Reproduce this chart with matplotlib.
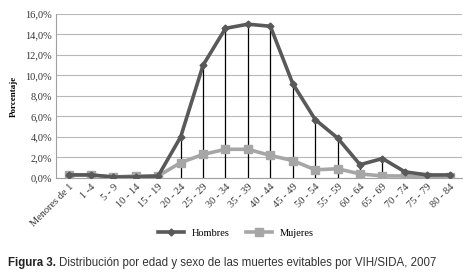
import matplotlib
matplotlib.use("Agg")
import matplotlib.pyplot as plt
from matplotlib.ticker import FuncFormatter

categories = ["Menores de 1", "1 -4", "5 - 9", "10 - 14", "15 - 19", "20 - 24", "25 - 29",
              "30 - 34", "35 - 39", "40 - 44", "45 - 49", "50 - 54", "55 - 59", "60 - 64",
              "65 - 69", "70 - 74", "75 - 79", "80 - 84"]
hombres = [0.3, 0.3, 0.1, 0.1, 0.2, 4.0, 11.0, 14.6, 15.0, 14.8, 9.2, 5.7, 3.9, 1.3, 1.9, 0.6, 0.3, 0.3]
mujeres = [0.3, 0.3, 0.1, 0.2, 0.2, 1.5, 2.3, 2.8, 2.8, 2.2, 1.7, 0.8, 0.9, 0.4, 0.2, 0.2, 0.1, 0.1]
yticks = [0, 2, 4, 6, 8, 10, 12, 14, 16]

serif = ["Liberation Serif", "DejaVu Serif"]
fig = plt.figure(figsize=(4.72, 2.79), dpi=100)
ax = fig.add_axes([0.119, 0.362, 0.86, 0.588])

x = list(range(len(categories)))
ax.vlines(x, 0, hombres, color="black", lw=0.9, zorder=2)
ax.plot(x, mujeres, color="#a6a6a6", lw=2.6, marker="s", ms=6, mec="#a6a6a6", zorder=3, label="Mujeres")
ax.plot(x, hombres, color="#595959", lw=2.6, marker="D", ms=3.5, zorder=4, label="Hombres")

ax.set_xlim(-0.55, len(categories) - 0.45)
ax.set_ylim(0, 16)
ax.set_yticks(yticks)
ax.yaxis.set_major_formatter(FuncFormatter(lambda v, p: f"{v:.1f}%".replace(".", ",")))
ax.grid(axis="y", color="#b8b8b8", lw=0.8)
ax.set_axisbelow(True)
for s in ["top", "right"]:
    ax.spines[s].set_visible(False)
for s in ["left", "bottom"]:
    ax.spines[s].set_color("#a0a0a0")
ax.tick_params(length=0, pad=3)
ax.set_xticks(x)
ax.set_xticklabels(categories, rotation=45, ha="right", rotation_mode="anchor",
                   fontsize=7.5, family=serif, color="#333333")
for t in ax.get_yticklabels():
    t.set_family(serif)
    t.set_fontsize(7.5)
    t.set_color("#333333")
ax.set_ylabel("Porcentaje", family=serif, fontsize=6.5, fontweight="bold", labelpad=5)

h, l = ax.get_legend_handles_labels()
fig.legend(h[::-1], l[::-1], loc="center", bbox_to_anchor=(0.5, 0.165), ncol=2, frameon=False,
           prop={"family": serif, "size": 7.5}, handlelength=2.5, columnspacing=1.5)

t1 = fig.text(0.018, 0.045, "Figura 3.", fontsize=8.3, family="Liberation Sans",
              fontweight="bold", color="#222222")
fig.canvas.draw()
bb = t1.get_window_extent().transformed(fig.transFigure.inverted())
fig.text(bb.x1 + 0.006, 0.045,
         "Distribución por edad y sexo de las muertes evitables por VIH/SIDA, 2007",
         fontsize=8.3, family="Liberation Sans", color="#333333")

fig.savefig("out.png", dpi=100)
